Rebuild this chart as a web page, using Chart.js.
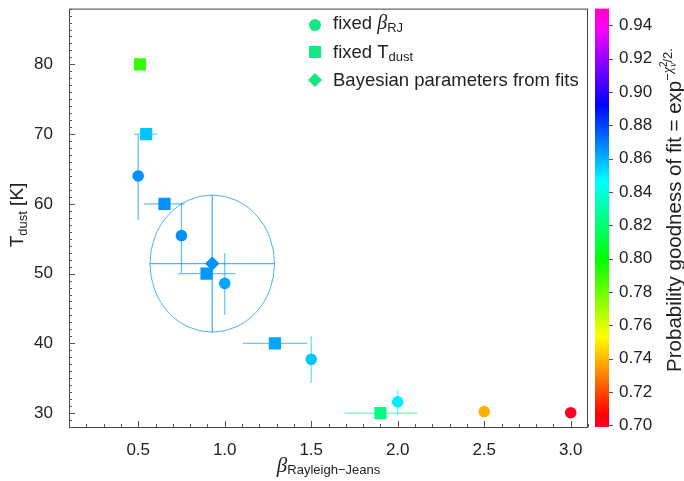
<!DOCTYPE html>
<html>
<head>
<meta charset="utf-8">
<script src="https://cdn.jsdelivr.net/npm/chart.js@4/dist/chart.umd.min.js"></script>
<style>body{margin:0;background:#fff}</style>
</head>
<body>
<canvas id="fitChart" width="684" height="481"></canvas>
<script>
// fixed beta_RJ fits (circles), vertical error bars on T
const circBeta = [0.5, 0.75, 1.0, 1.5, 2.0, 2.5, 3.0];
const circTemp = [64.0, 55.45, 48.6, 37.7, 31.6, 30.2, 30.05];
const circTempLo = [57.7, 50.1, 44.1, 34.3, 29.7, null, null];
const circTempHi = [70.0, 60.1, 52.9, 41.1, 33.3, null, null];
const circProb = [0.866, 0.866, 0.862, 0.856, 0.849, 0.739, 0.700];

// fixed T_dust fits (squares), horizontal error bars on beta
const sqBeta = [0.51, 0.546, 0.652, 0.895, 1.29, 1.90];
const sqTemp = [80, 70, 60, 50, 40, 30];
const sqBetaLo = [null, 0.475, 0.532, 0.73, 1.105, 1.693];
const sqBetaHi = [null, 0.61, 0.768, 1.063, 1.477, 2.114];
const sqProb = [0.790, 0.857, 0.866, 0.865, 0.862, 0.823];

// bayesian estimate (diamond + ellipse)
const bayBeta = [0.928];
const bayTemp = [51.43];
const bayBetaErr = [0.36];
const bayTempErr = [9.83];
const bayProb = [0.866];

const xTicks = [0.5, 1.0, 1.5, 2.0, 2.5, 3.0];
const yTicks = [30, 40, 50, 60, 70, 80];
const cbTicks = [0.70, 0.72, 0.74, 0.76, 0.78, 0.80, 0.82, 0.84, 0.86, 0.88, 0.90, 0.92, 0.94];
const cbMin = 0.699, cbMax = 0.95;

// gist_rainbow-like colour map
const cmapStops = [
  [0.000, 255, 0, 40], [0.030, 255, 0, 0], [0.215, 255, 255, 0], [0.400, 0, 255, 0],
  [0.586, 0, 255, 255], [0.770, 0, 0, 255], [0.954, 255, 0, 255], [1.000, 255, 0, 191]
];
function cmapT(t, a) {
  t = Math.max(0, Math.min(1, t));
  let i = 0;
  while (i < cmapStops.length - 2 && t > cmapStops[i + 1][0]) i++;
  const s0 = cmapStops[i], s1 = cmapStops[i + 1];
  const f = (t - s0[0]) / (s1[0] - s0[0]);
  const c = [1, 2, 3].map(k => Math.round(s0[k] + (s1[k] - s0[k]) * f));
  return 'rgba(' + c.join(',') + ',' + (a == null ? 1 : a) + ')';
}
const cmap = (v, a) => cmapT((v - cbMin) / (cbMax - cbMin), a);

const SANS = '"Liberation Sans", Arial, sans-serif';
const SERIF = '"Liberation Serif", serif';

function drawParts(ctx, parts, x, y, rot) {
  ctx.save();
  ctx.translate(x, y);
  ctx.rotate(rot || 0);
  let w = 0;
  parts.forEach(p => { ctx.font = p.font; p.w = ctx.measureText(p.t).width; if (!p.stay) w += p.w; });
  let cx = -w / 2;
  parts.forEach(p => { ctx.font = p.font; ctx.fillText(p.t, cx, p.dy || 0); if (!p.stay) cx += p.w; });
  ctx.restore();
}
function drawPartsLeft(ctx, parts, x, y) {
  let cx = x;
  parts.forEach(p => { ctx.font = p.font; ctx.fillText(p.t, cx, y + (p.dy || 0)); cx += ctx.measureText(p.t).width; });
}

const extras = {
  id: 'extras',
  beforeDatasetsDraw(chart) {
    const {ctx, scales: {x, y}} = chart;
    ctx.save();
    ctx.lineWidth = 1.3;
    const seg = (x1, y1, x2, y2) => { ctx.beginPath(); ctx.moveTo(x1, y1); ctx.lineTo(x2, y2); ctx.stroke(); };
    circBeta.forEach((b, i) => {
      if (circTempLo[i] == null) return;
      ctx.strokeStyle = cmap(circProb[i], 0.6);
      const px = x.getPixelForValue(b);
      seg(px, y.getPixelForValue(circTempLo[i]), px, y.getPixelForValue(circTempHi[i]));
    });
    sqBeta.forEach((b, i) => {
      if (sqBetaLo[i] == null) return;
      ctx.strokeStyle = cmap(sqProb[i], 0.6);
      const py = y.getPixelForValue(sqTemp[i]);
      seg(x.getPixelForValue(sqBetaLo[i]), py, x.getPixelForValue(sqBetaHi[i]), py);
    });
    bayBeta.forEach((b, i) => {
      ctx.strokeStyle = cmap(bayProb[i], 0.7);
      const px = x.getPixelForValue(b), py = y.getPixelForValue(bayTemp[i]);
      const x1 = x.getPixelForValue(b - bayBetaErr[i]), x2 = x.getPixelForValue(b + bayBetaErr[i]);
      const y1 = y.getPixelForValue(bayTemp[i] - bayTempErr[i]), y2 = y.getPixelForValue(bayTemp[i] + bayTempErr[i]);
      seg(x1, py, x2, py);
      seg(px, y1, px, y2);
      ctx.lineWidth = 1;
      ctx.beginPath();
      ctx.ellipse(px, py, Math.abs(x2 - px), Math.abs(y1 - py), 0, 0, Math.PI * 2);
      ctx.stroke();
    });
    ctx.restore();
  },
  afterDraw(chart) {
    const {ctx, chartArea: a, scales: {x, y, cb}} = chart;
    ctx.save();
    // frame
    ctx.strokeStyle = '#444';
    ctx.lineWidth = 1;
    ctx.strokeRect(a.left + 0.5, a.top + 0.5, a.right - a.left - 1, a.bottom - a.top);
    // inward ticks
    ctx.strokeStyle = '#555';
    for (let k = 1; k <= 31; k++) {
      const px = Math.round(x.getPixelForValue(k / 10)) + 0.5;
      const len = k % 5 === 0 ? 6 : 3;
      ctx.beginPath(); ctx.moveTo(px, a.bottom); ctx.lineTo(px, a.bottom - len); ctx.stroke();
    }
    for (let v = 28; v <= 88; v++) {
      const py = Math.round(y.getPixelForValue(v)) + 0.5;
      const len = v % 10 === 0 ? 6 : 3;
      ctx.beginPath(); ctx.moveTo(a.left, py); ctx.lineTo(a.left + len, py); ctx.stroke();
    }
    // colour bar
    const bx = cb.left + 7, bw = 14;
    const g = ctx.createLinearGradient(0, cb.getPixelForValue(cbMin), 0, cb.getPixelForValue(cbMax));
    cmapStops.forEach(s => g.addColorStop(s[0], cmapT(s[0])));
    ctx.fillStyle = g;
    ctx.fillRect(bx, cb.top, bw, cb.bottom - cb.top);
    cbTicks.forEach(v => {
      const py = Math.round(cb.getPixelForValue(v)) + 0.5;
      ctx.beginPath(); ctx.moveTo(bx + bw, py); ctx.lineTo(bx + bw + 4, py); ctx.stroke();
    });
    // axis titles
    ctx.fillStyle = '#222';
    ctx.textBaseline = 'alphabetic';
    drawParts(ctx, [
      {t: 'β', font: 'italic 21px ' + SERIF},
      {t: 'Rayleigh−Jeans', font: '13px ' + SANS, dy: 2}
    ], (a.left + a.right) / 2, 472, 0);
    drawParts(ctx, [
      {t: 'T', font: '19px ' + SANS},
      {t: 'dust', font: '13px ' + SANS, dy: 4},
      {t: ' [K]', font: '19px ' + SANS}
    ], 23, 215, -Math.PI / 2);
    drawParts(ctx, [
      {t: 'Probability goodness of fit = exp', font: '20.5px ' + SANS},
      {t: '−', font: '13px ' + SANS, dy: -9},
      {t: 'χ', font: 'italic 14px ' + SERIF, dy: -9},
      {t: '2', font: '10px ' + SANS, dy: -14, stay: true},
      {t: 'ν', font: 'italic 10px ' + SERIF, dy: -5},
      {t: '/2.', font: '13px ' + SANS, dy: -9}
    ], 681, 210, -Math.PI / 2);
    // legend
    const lx = 315, lc = '#14e884';
    ctx.fillStyle = lc;
    ctx.beginPath(); ctx.arc(lx, 25, 6, 0, Math.PI * 2); ctx.fill();
    ctx.fillRect(lx - 6, 46, 12, 12);
    ctx.beginPath(); ctx.moveTo(lx - 7, 80); ctx.lineTo(lx, 73); ctx.lineTo(lx + 7, 80); ctx.lineTo(lx, 87); ctx.closePath(); ctx.fill();
    ctx.fillStyle = '#222';
    drawPartsLeft(ctx, [
      {t: 'fixed ', font: '18.5px ' + SANS},
      {t: 'β', font: 'italic 20px ' + SERIF},
      {t: 'RJ', font: '13px ' + SANS, dy: 3}
    ], 333, 29);
    drawPartsLeft(ctx, [
      {t: 'fixed T', font: '18.5px ' + SANS},
      {t: 'dust', font: '13px ' + SANS, dy: 3}
    ], 333, 57.5);
    drawPartsLeft(ctx, [
      {t: 'Bayesian parameters from fits', font: '18.5px ' + SANS}
    ], 333, 86);
    ctx.restore();
  }
};

const tickFont = {size: 17, family: SANS};
const noPadV = s => { s.paddingTop = 0; s.paddingBottom = 0; };
new Chart(document.getElementById('fitChart'), {
  type: 'scatter',
  data: {
    datasets: [
      {
        label: 'fixed βRJ',
        data: circBeta.map((b, i) => ({x: b, y: circTemp[i]})),
        pointStyle: 'circle', pointRadius: 5.8, pointHoverRadius: 5.8,
        backgroundColor: circProb.map(v => cmap(v)), borderWidth: 0
      },
      {
        label: 'fixed Tdust',
        data: sqBeta.map((b, i) => ({x: b, y: sqTemp[i]})),
        pointStyle: 'rect', pointRadius: 8.6, pointHoverRadius: 8.6,
        backgroundColor: sqProb.map(v => cmap(v)), borderWidth: 0
      },
      {
        label: 'Bayesian parameters from fits',
        data: bayBeta.map((b, i) => ({x: b, y: bayTemp[i]})),
        pointStyle: 'rectRot', pointRadius: 7.2, pointHoverRadius: 7.2,
        backgroundColor: bayProb.map(v => cmap(v)), borderWidth: 0
      }
    ]
  },
  options: {
    responsive: false,
    animation: false,
    devicePixelRatio: 1,
    layout: {padding: {top: 4, left: 0, right: 0, bottom: 0}},
    plugins: {legend: {display: false}, tooltip: {enabled: false}},
    scales: {
      x: {
        type: 'linear', min: 0.1, max: 3.1,
        afterBuildTicks: s => { s.ticks = xTicks.map(v => ({value: v})); },
        afterFit: s => { s.height = 54; s.paddingLeft = 0; s.paddingRight = 0; },
        ticks: {callback: v => v.toFixed(1), font: tickFont, color: '#222', padding: 3, maxRotation: 0, autoSkip: false},
        grid: {display: false, drawTicks: true, tickLength: 10},
        border: {display: false}
      },
      y: {
        type: 'linear', min: 28, max: 88,
        afterBuildTicks: s => { s.ticks = yTicks.map(v => ({value: v})); },
        afterFit: s => { s.width = 69; noPadV(s); },
        ticks: {font: tickFont, color: '#222', padding: 3, autoSkip: false},
        grid: {display: false, drawTicks: true, tickLength: 13},
        border: {display: false}
      },
      cb: {
        type: 'linear', position: 'right', min: cbMin, max: cbMax,
        afterBuildTicks: s => { s.ticks = cbTicks.map(v => ({value: v})); },
        afterFit: s => { s.width = 96; noPadV(s); },
        ticks: {callback: v => v.toFixed(2), font: tickFont, color: '#222', padding: 3, autoSkip: false},
        grid: {display: false, drawTicks: true, tickLength: 28},
        border: {display: false}
      }
    }
  },
  plugins: [extras]
});
</script>
</body>
</html>
